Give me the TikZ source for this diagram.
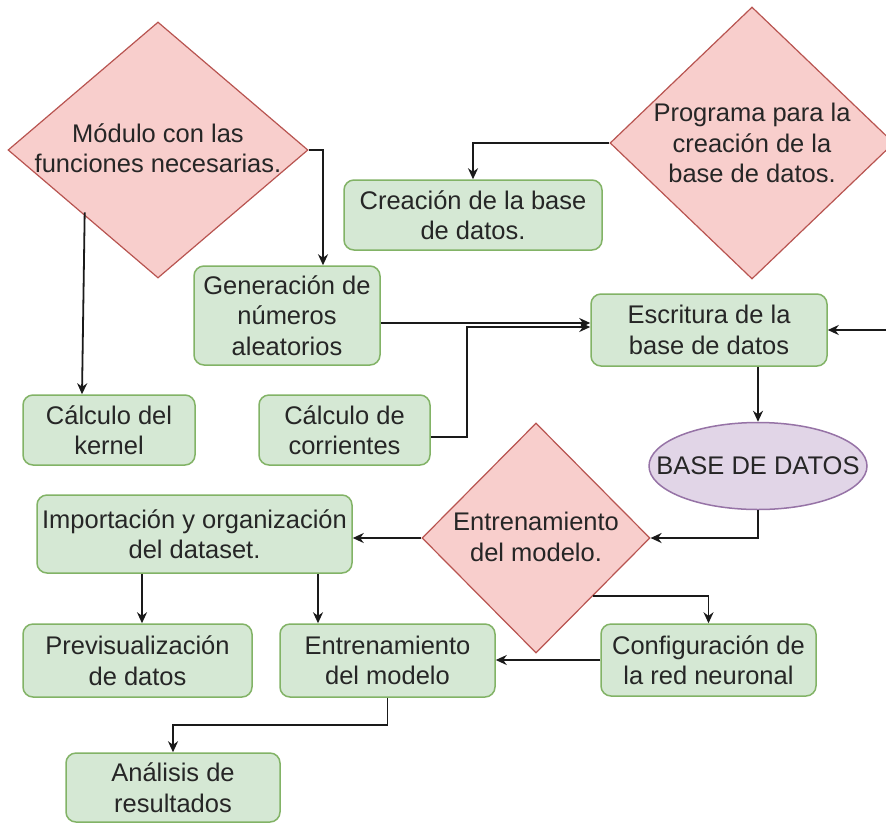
\documentclass[tikz,border=0pt]{standalone}
\usepackage{fontspec}
\setmainfont{Liberation Sans}
\usetikzlibrary{shapes.geometric,arrows.meta}

\definecolor{boxfill}{HTML}{D5E8D4}
\definecolor{boxline}{HTML}{82B366}
\definecolor{decfill}{HTML}{F8CECC}
\definecolor{decline}{HTML}{B85450}
\definecolor{dbfill}{HTML}{E1D5E7}
\definecolor{dbline}{HTML}{9673A6}
\definecolor{ink}{HTML}{262626}
\definecolor{wire}{HTML}{1A1A1A}

\tikzset{
  label text/.style={font=\fontsize{25.5}{30.5}\selectfont, text=ink, align=center, inner sep=0pt},
  stepbox/.style={label text, rectangle, rounded corners=10pt, fill=boxfill, draw=boxline, line width=1.5pt},
  decision/.style={diamond, inner sep=0pt, fill=decfill, draw=decline, line width=1.2pt},
  store/.style={ellipse, inner sep=0pt, fill=dbfill, draw=dbline, line width=1.5pt},
  link/.style={draw=wire, line width=1.8pt, -{Stealth[length=11pt,width=10pt]}},
}

\begin{document}
\begin{tikzpicture}[x=1pt,y=-1pt]
  \fill[white] (0,0) rectangle (886,823);
  \useasboundingbox (0,0) rectangle (886,823);

  % decisions: the outline first, then its text on top
  \node[decision, minimum width=300pt, minimum height=256pt] (mod) at (158,150) {};
  \node[label text] (mod-t) at (158,148) {Módulo con las\\funciones necesarias.};
  \node[decision, minimum width=284pt, minimum height=272pt] (prog) at (752,143) {};
  \node[label text] (prog-t) at (752,143) {Programa para la\\creación de la\\base de datos.};
  \node[decision, minimum width=228pt, minimum height=230pt] (train) at (536,538) {};
  \node[label text] (train-t) at (536,537) {Entrenamiento\\del modelo.};

  % process steps
  \node[stepbox, minimum width=258pt, minimum height=70pt] (crea) at (473,215)
    {Creación de la base\\de datos.};
  \node[stepbox, minimum width=186pt, minimum height=99pt] (gen) at (287,315.5)
    {Generación de\\números\\aleatorios};
  \node[stepbox, minimum width=236pt, minimum height=72pt] (escr) at (709,330)
    {Escritura de la\\base de datos};
  \node[stepbox, minimum width=172pt, minimum height=70pt] (kern) at (109,430)
    {Cálculo del\\kernel};
  \node[stepbox, minimum width=171pt, minimum height=70pt] (corr) at (344.5,430)
    {Cálculo de\\corrientes};
  \node[stepbox, minimum width=315pt, minimum height=78pt] (imp) at (194.5,534)
    {Importación y organización\\del dataset.};
  \node[stepbox, minimum width=229pt, minimum height=73pt] (prev) at (137.5,660.5)
    {Previsualización\\de datos};
  \node[stepbox, minimum width=215pt, minimum height=73pt] (entb) at (387.5,660.5)
    {Entrenamiento\\del modelo};
  \node[stepbox, minimum width=215pt, minimum height=72pt] (conf) at (708.5,660)
    {Configuración de\\la red neuronal};
  \node[stepbox, minimum width=214pt, minimum height=69pt] (anal) at (173,787.5)
    {Análisis de\\resultados};

  % data store
  \node[store, minimum width=218pt, minimum height=87pt] (db) at (758,466) {};
  \node[label text] (db-t) at (758,466) {BASE DE DATOS};

  % incoming link from the right margin
  \coordinate (rin) at (892,330);

  % connectors
  \draw[link] (mod.east) -| ([xshift=36pt]gen.north);
  \draw[link] ([xshift=2pt,yshift=2pt]mod.south west) -- ([xshift=-27pt]kern.north);
  \draw[link] (prog.west) -| (crea.north);
  \draw[link] ([yshift=-7.5pt]gen.east) -- ([yshift=-7.5pt]gen.east -| escr.west);
  \draw[link] ([yshift=-7pt]corr.east) -- ++(36,0) |- ([yshift=3pt]escr.west);
  \draw[link] (rin) -- (escr.east);
  \draw[link] (escr.south -| db.north) -- (db.north);
  \draw[link] (db.south) |- (train.east);
  \draw[link] (train.west) -- (train.west -| imp.east);
  \draw[link] ([xshift=4.5pt]prev.north |- imp.south) -- ([xshift=4.5pt]prev.north);
  \draw[link] ([xshift=-69.5pt]entb.north |- imp.south) -- ([xshift=-69.5pt]entb.north);
  \draw[link] (train.south east) -| (conf.north);
  \draw[link] (conf.west) -- (conf.west -| entb.east);
  \draw[link] (entb.south) -- ++(0,27) -| (anal.north);
\end{tikzpicture}
\end{document}
